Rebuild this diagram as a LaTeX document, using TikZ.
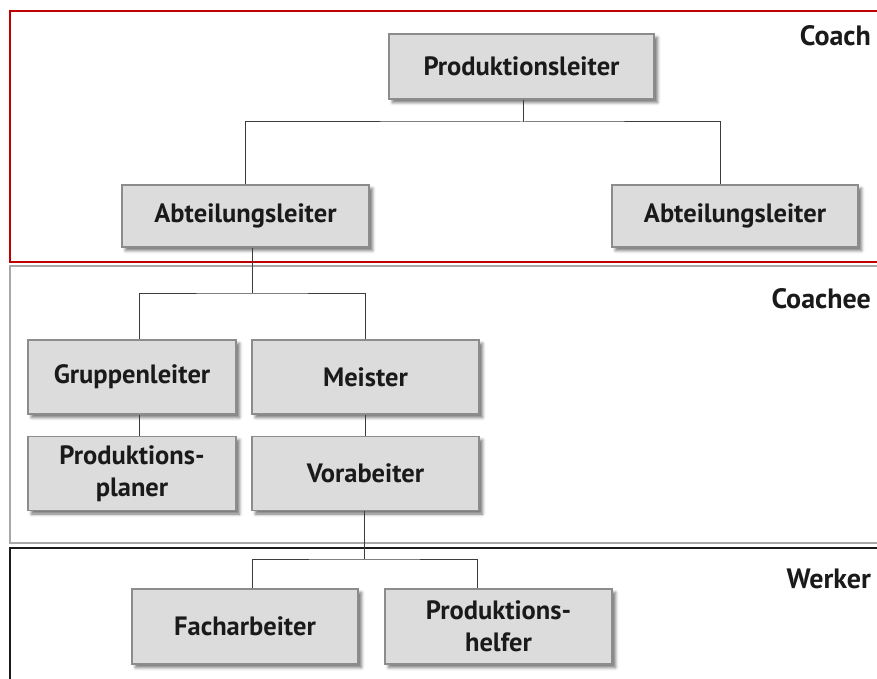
\documentclass[tikz,border=0pt]{standalone}
\usepackage{fontspec}
\setmainfont{PT Sans}
\usetikzlibrary{shadows.blur}
\definecolor{framered}{HTML}{C00000}
\definecolor{framegrey}{HTML}{A8A8A8}
\definecolor{boxfill}{HTML}{DCDCDC}
\definecolor{boxline}{HTML}{8C8C8C}
\definecolor{ink}{HTML}{1A1A1A}
\begin{document}
\begin{tikzpicture}[x=1pt,y=-1pt,
  orgbox/.style={draw=boxline, line width=1.6pt, fill=boxfill,
    text=ink, font=\fontsize{26.5}{32}\selectfont\bfseries, align=center,
    inner sep=0pt, minimum height=#1,
    blur shadow={shadow xshift=3.5pt, shadow yshift=-3.5pt,
      shadow blur radius=3pt, shadow opacity=55}},
  orgbox/.default=74,
  conn/.style={draw=ink!85, line width=1pt},
  levelname/.style={anchor=base east, text=ink,
    font=\fontsize{28}{32}\selectfont\bfseries, inner sep=0pt},
  frame/.style={line width=2.2pt}]
\useasboundingbox (0,0) rectangle (877,679);
\clip (0,0) rectangle (877,679);

% level frames, open towards the right and bottom edges
\draw[frame, draw=framered]  (10,11)  rectangle (900,262);
\draw[frame, draw=framegrey] (10,266) rectangle (900,543);
\draw[frame, draw=ink]       (10,548) rectangle (900,720);

% level names
\node[levelname] (coach)   at (871,46)  {Coach};
\node[levelname] (coachee) at (871,308) {Coachee};
\node[levelname] (werker)  at (871,588) {Werker};

% boxes
\node[orgbox=65, minimum width=265] (pl)  at (521.5,66.5) {Produktionsleiter};
\node[orgbox=62, minimum width=247] (al1) at (245.5,216)  {Abteilungsleiter};
\node[orgbox=62, minimum width=246] (al2) at (735,216)    {Abteilungsleiter};
\node[orgbox, minimum width=208] (gl) at (132,377)   {Gruppenleiter};
\node[orgbox, minimum width=227] (me) at (365.5,377) {Meister};
\node[orgbox, minimum width=208] (pp) at (132,473.5) {Produktions-\\planer};
\node[orgbox, minimum width=227] (vo) at (365.5,473.5) {Vorabeiter};
\node[orgbox=75, minimum width=226] (fa) at (245,626.5)   {Facharbeiter};
\node[orgbox=75, minimum width=227] (ph) at (498.5,626.5) {Produktions-\\helfer};

% junction points of the tree
\coordinate (j1) at (523,122);
\coordinate (j2) at (252,293);
\coordinate (j3) at (364,559);

% connectors
\draw[conn] ([xshift=1.5pt]pl.south) -- (j1);
\draw[conn] (al1.north) |- (j1) -| ([xshift=-15pt]al2.north);

\draw[conn] ([xshift=6.5pt]al1.south) -- (j2);
\draw[conn] ([xshift=7pt]gl.north) |- (j2) -| (me.north);
\draw[conn] ([xshift=7pt]gl.south) -- ([xshift=7pt]pp.north);
\draw[conn] (me.south) -- (vo.north);

\draw[conn] ([xshift=-1.5pt]vo.south) -- (j3);
\draw[conn] ([xshift=7pt]fa.north) |- (j3) -| ([xshift=-21.5pt]ph.north);
\end{tikzpicture}
\end{document}
